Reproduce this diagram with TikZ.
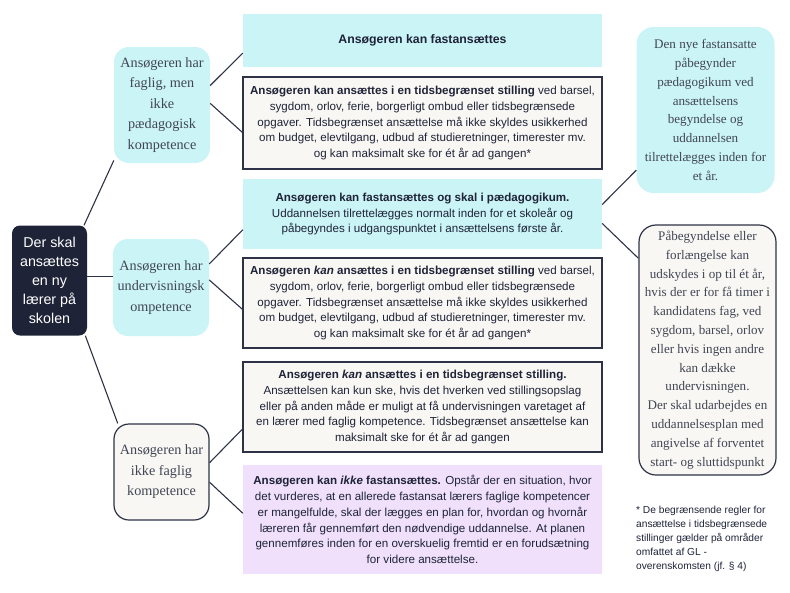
\documentclass[tikz,border=0pt]{standalone}
\usepackage{fontspec}
\setmainfont{Liberation Serif}
\setsansfont{Liberation Sans}
\usepackage{tikz}
\usetikzlibrary{positioning,calc}
\definecolor{navy}{RGB}{30,35,56}
\definecolor{lineclr}{RGB}{45,50,70}
\definecolor{cyanfill}{RGB}{203,244,246}
\definecolor{paper}{RGB}{249,247,243}
\definecolor{lilac}{RGB}{240,224,252}
\definecolor{serifgray}{RGB}{65,70,85}
\tikzset{
  root/.style={rectangle, fill=navy, rounded corners=8pt, text=white, align=center, inner sep=0pt, font=\sffamily\fontsize{14.3}{19}\selectfont},
  cond/.style={rectangle, rounded corners=15pt, align=center, inner sep=0pt, text=serifgray, font=\rmfamily\fontsize{14.2}{20.5}\selectfont},
  condcyan/.style={cond, fill=cyanfill},
  condpaper/.style={cond, fill=paper, draw=lineclr, line width=1.2pt},
  rule/.style={rectangle, align=center, inner sep=0pt, minimum width=359pt, text=navy, font=\sffamily\fontsize{11.6}{15.9}\selectfont},
  rulecyan/.style={rule, fill=cyanfill},
  rulepaper/.style={rule, fill=paper, draw=lineclr, line width=1.2pt},
  rulelilac/.style={rule, fill=lilac},
  note/.style={rectangle, rounded corners=17pt, align=center, inner sep=0pt, minimum width=138pt, text=serifgray, font=\rmfamily\fontsize{13.1}{18.8}\selectfont},
  link/.style={draw=lineclr, line width=1.1pt},
}

\begin{document}
\begin{tikzpicture}[x=1pt, y=-1pt]
  \useasboundingbox (0,0) rectangle (790,592);

  % Root
  \node[root, minimum width=75pt, minimum height=110pt] (root) at (49.5,280.5)
    {Der skal\\ansættes\\en ny\\lærer på\\skolen};

  % Competence cases
  \node[condcyan, minimum width=96pt, minimum height=116pt] (faglig) at (162,105)
    {Ansøgeren har\\faglig, men\\ikke\\pædagogisk\\kompetence};
  \node[condcyan, minimum width=96pt, minimum height=97pt] (undv) at (161,287.5)
    {Ansøgeren har\\undervisningsk\\ompetence};
  \node[condpaper, minimum width=95pt, minimum height=96pt] (ikkefag) at (161.5,472)
    {Ansøgeren har\\ikke faglig\\kompetence};

  % Rules
  \node[rulecyan, minimum height=53pt, font=\sffamily\fontsize{12.3}{15.9}\selectfont] (fast) at (422.5,40.5)
    {\textbf{Ansøgeren kan fastansættes}};
  \node[rulepaper, minimum height=92pt] (tidsA) at (422.5,123)
    {\textbf{Ansøgeren kan ansættes i en tidsbegrænset stilling} ved barsel,\\
     sygdom, orlov, ferie, borgerligt ombud eller tidsbegrænsede\\
     opgaver. Tidsbegrænset ansættelse må ikke skyldes usikkerhed\\
     om budget, elevtilgang, udbud af studieretninger, timerester mv.\\
     og kan maksimalt ske for ét år ad gangen*};
  \node[rulecyan, minimum height=70pt] (paed) at (422.5,214)
    {\textbf{Ansøgeren kan fastansættes og skal i pædagogikum.}\\
     Uddannelsen tilrettelægges normalt inden for et skoleår og\\
     påbegyndes i udgangspunktet i ansættelsens første år.};
  \node[rulepaper, minimum height=90pt] (tidsB) at (422.5,303)
    {\textbf{Ansøgeren \textit{kan} ansættes i en tidsbegrænset stilling} ved barsel,\\
     sygdom, orlov, ferie, borgerligt ombud eller tidsbegrænsede\\
     opgaver. Tidsbegrænset ansættelse må ikke skyldes usikkerhed\\
     om budget, elevtilgang, udbud af studieretninger, timerester mv.\\
     og kan maksimalt ske for ét år ad gangen*};
  \node[rulepaper, minimum height=90pt] (tidsC) at (422.5,407)
    {\textbf{Ansøgeren \textit{kan} ansættes i en tidsbegrænset stilling.}\\
     Ansættelsen kan kun ske, hvis det hverken ved stillingsopslag\\
     eller på anden måde er muligt at få undervisningen varetaget af\\
     en lærer med faglig kompetence. Tidsbegrænset ansættelse kan\\
     maksimalt ske for ét år ad gangen};
  \node[rulelilac, minimum height=109pt] (ikkefast) at (422.5,519.5)
    {\textbf{Ansøgeren kan \textit{ikke} fastansættes.} Opstår der en situation, hvor\\
     det vurderes, at en allerede fastansat lærers faglige kompetencer\\
     er mangelfulde, skal der lægges en plan for, hvordan og hvornår\\
     læreren får gennemført den nødvendige uddannelse. At planen\\
     gennemføres inden for en overskuelig fremtid er en forudsætning\\
     for videre ansættelse.};

  % Notes on pedagogikum
  \node[note, fill=cyanfill, minimum height=166pt] (start) at (705.5,110)
    {Den nye fastansatte\\påbegynder\\pædagogikum ved\\ansættelsens\\begyndelse og\\uddannelsen\\tilrettelægges inden for\\et år.};
  \node[note, fill=paper, draw=lineclr, line width=1.2pt, minimum width=137pt, minimum height=250pt] (udsk) at (707.5,350)
    {Påbegyndelse eller\\forlængelse kan\\udskydes i op til ét år,\\hvis der er for få timer i\\kandidatens fag, ved\\sygdom, barsel, orlov\\eller hvis ingen andre\\kan dække\\undervisningen.\\Der skal udarbejdes en\\uddannelsesplan med\\angivelse af forventet\\start- og sluttidspunkt};

  % Footnote
  \node[anchor=north west, align=left, inner sep=0pt, text=navy, font=\sffamily\fontsize{10.2}{14}\selectfont] (fodnote) at (636,506)
    {* De begrænsende regler for\\ansættelse i tidsbegrænsede\\stillinger gælder på områder\\omfattet af GL -\\overenskomsten (jf. § 4)};

  % Connectors
  \draw[link] (root.58) -- (faglig.229);
  \draw[link] ([yshift=4pt]root.east) -- ([yshift=4pt]root.east -| undv.west);
  \draw[link] (root.303) -- (ikkefag.132);
  \draw[link] (faglig.22) -- (fast.184);
  \draw[link] (faglig.2) -- (tidsA.183);
  \draw[link] (undv.26) -- (paed.185);
  \draw[link] (undv.9) -- (tidsB.182);
  \draw[link] (ikkefag.11) -- (tidsC.187);
  \draw[link] (ikkefag.-12) -- (ikkefast.178);
  \draw[link] (paed.3.5) -- (start.221);
  \draw[link] (paed.-3) -- (udsk.127);

\end{tikzpicture}
\end{document}
